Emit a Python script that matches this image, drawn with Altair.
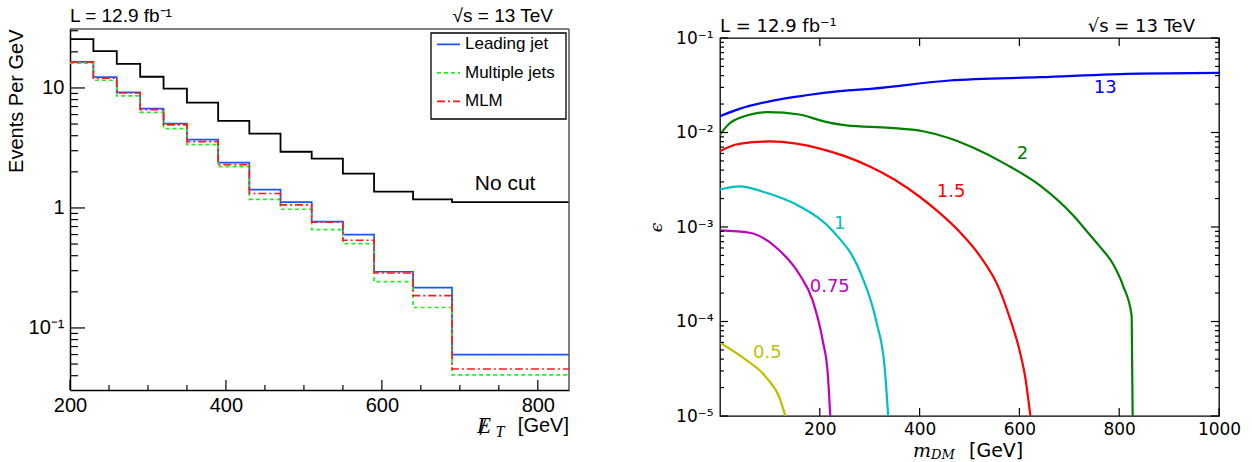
import altair as alt
import pandas as pd

# ---------------- left panel: missing-ET distributions ----------------
bin_edges = [200, 230, 260, 290, 320, 350, 390, 430, 470, 510, 550, 590, 640, 690, 840]
no_cut = [25.5, 20.3, 15.9, 12.4, 9.87, 7.55, 5.31, 4.16, 2.94, 2.58, 1.93, 1.37, 1.18, 1.12]
leading_jet = [16.5, 12.3, 9.2, 6.72, 5.04, 3.71, 2.39, 1.42, 1.12, 0.77, 0.60, 0.294, 0.217, 0.060]
multiple_jets = [16.1, 11.6, 8.58, 6.27, 4.58, 3.37, 2.21, 1.18, 0.975, 0.66, 0.504, 0.243, 0.148, 0.0406]
mlm = [16.5, 12.1, 9.08, 6.6, 4.92, 3.57, 2.30, 1.32, 1.06, 0.76, 0.538, 0.287, 0.186, 0.0455]
series_names = ["Leading jet", "Multiple jets", "MLM"]
series_colors = ["#1a55ff", "#22ee22", "#ff1a1a"]
series_dashes = [[1, 0], [4, 3], [8, 3, 2, 3]]

left_x_major = [200, 400, 600, 800]
left_x_minor = [250, 300, 350, 450, 500, 550, 650, 700, 750]
left_y_major = [0.1, 1, 10]
left_y_minor = [0.04, 0.05, 0.06, 0.07, 0.08, 0.09, 0.2, 0.3, 0.4, 0.5, 0.6, 0.7,
                0.8, 0.9, 2, 3, 4, 5, 6, 7, 8, 9, 20, 30]

# ---------------- right panel: contours in (m_DM, epsilon) ----------------
c13_m = [0, 39, 106, 173, 240, 307, 460, 641, 841, 1000]
c13_eps = [1.486e-2, 1.778e-2, 2.178e-2, 2.477e-2, 2.735e-2, 2.917e-2, 3.548e-2, 3.846e-2, 4.207e-2, 4.266e-2]
c2_m = [0, 20, 40, 96, 159, 206, 253, 340, 407, 460, 507, 574, 641, 708, 735, 760, 788, 808, 825, 827]
c2_eps = [9.53e-3, 1.26e-2, 1.43e-2, 1.64e-2, 1.55e-2, 1.32e-2, 1.19e-2, 1.12e-2, 1.03e-2, 8.71e-3,
          6.92e-3, 4.57e-3, 2.75e-3, 1.32e-3, 9.02e-4, 6.31e-4, 4.03e-4, 2.37e-4, 1.15e-4, 1.0e-5]
c15_m = [0, 30, 60, 100, 150, 200, 250, 300, 350, 400, 440, 480, 520, 560, 580, 600, 612, 622]
c15_eps = [6.34e-3, 7.41e-3, 7.85e-3, 8.04e-3, 7.67e-3, 6.76e-3, 5.62e-3, 4.37e-3, 3.16e-3, 2.09e-3,
           1.41e-3, 8.91e-4, 5.01e-4, 2.19e-4, 1.12e-4, 5.01e-5, 2.51e-5, 1.0e-5]
c1_m = [0, 39, 93, 159, 226, 280, 313, 330, 337]
c1_eps = [2.49e-3, 2.69e-3, 2.30e-3, 1.66e-3, 9.06e-4, 3.42e-4, 1.01e-4, 3.25e-5, 1.0e-5]
c075_m = [0, 59, 113, 159, 186, 206, 216, 221]
c075_eps = [9.2e-4, 8.69e-4, 6.03e-4, 3.16e-4, 1.65e-4, 6.22e-5, 2.77e-5, 1.0e-5]
c05_m = [0, 46, 93, 119, 131]
c05_eps = [5.97e-5, 4.14e-5, 2.55e-5, 1.57e-5, 1.0e-5]

contour_names = ["13", "2", "1.5", "1", "0.75", "0.5"]
contour_colors = ["#0000ff", "#008000", "#ff0000", "#00bfbf", "#bf00bf", "#bfbf00"]
label_m = [772, 606, 463, 240, 220, 95]
label_eps = [2.96e-2, 5.97e-3, 2.37e-3, 1.08e-3, 2.33e-4, 4.59e-5]

right_x_major = [200, 400, 600, 800, 1000]
right_y_major = [1e-5, 1e-4, 1e-3, 1e-2, 1e-1]
right_y_minor = [m * d for d in [1e-5, 1e-4, 1e-3, 1e-2] for m in range(2, 10)]

# ======================= LEFT CHART =======================
W_L, H_L, TOP_L = 499, 352, -9
FL = "Liberation Sans"

rows = []
for name, vals in zip(series_names, [leading_jet, multiple_jets, mlm]):
    for i, e in enumerate(bin_edges):
        rows.append({"series": name, "x": e, "y": vals[min(i, len(vals) - 1)], "i": i})
df_col = pd.DataFrame(rows)
df_black = pd.DataFrame([{"x": e, "y": no_cut[min(i, len(no_cut) - 1)], "i": i}
                         for i, e in enumerate(bin_edges)])

xL = alt.X("x:Q", scale=alt.Scale(domain=[200, 840], nice=False, zero=False),
           axis=alt.Axis(values=left_x_major, ticks=False, grid=False, domain=True,
                         domainColor="black", domainWidth=1.5, labelFont=FL, labelFontSize=20,
                         labelColor="black", labelPadding=5, title=None, labelFlush=False))
yL = alt.Y("y:Q", scale=alt.Scale(type="log", domain=[0.0304, 31], range=[H_L, TOP_L], nice=False),
           axis=alt.Axis(values=left_y_major, ticks=False, grid=False, domain=True,
                         domainColor="black", domainWidth=1.5, labelFont=FL, labelFontSize=20,
                         labelColor="black", labelPadding=6,
                         labelExpr="datum.value < 0.5 ? '10⁻¹' : (datum.value < 5 ? '1' : '10')",
                         title="Events Per GeV", titleAnchor="end", titleFont=FL,
                         titleFontSize=20, titleFontWeight="normal", titleColor="black",
                         titlePadding=2))

colored = alt.Chart(df_col).mark_line(interpolate="step-after", strokeWidth=1.7).encode(
    x=xL, y=yL,
    color=alt.Color("series:N", scale=alt.Scale(domain=series_names, range=series_colors), legend=None),
    strokeDash=alt.StrokeDash("series:N", scale=alt.Scale(domain=series_names, range=series_dashes), legend=None),
    order="i:Q")
black = alt.Chart(df_black).mark_line(interpolate="step-after", strokeWidth=1.8, color="black").encode(
    x=xL, y=yL, order="i:Q")

nocut_txt = alt.Chart(pd.DataFrame({"x": [758], "y": [1.575], "t": ["No cut"]})).mark_text(
    font=FL, fontSize=21, color="black").encode(x=xL, y=yL, text="t:N")

one = pd.DataFrame({"a": [0]})
xmaj = alt.Chart(pd.DataFrame({"x": left_x_major})).mark_rule(color="black", strokeWidth=1.2).encode(
    x=xL, y=alt.value(H_L), y2=alt.value(H_L - 10))
xmin = alt.Chart(pd.DataFrame({"x": left_x_minor})).mark_rule(color="black", strokeWidth=1.2).encode(
    x=xL, y=alt.value(H_L), y2=alt.value(H_L - 5))
ymaj = alt.Chart(pd.DataFrame({"y": left_y_major})).mark_rule(color="black", strokeWidth=1.2).encode(
    y=yL, x=alt.value(0), x2=alt.value(15))
ymin = alt.Chart(pd.DataFrame({"y": left_y_minor})).mark_rule(color="black", strokeWidth=1.2).encode(
    y=yL, x=alt.value(0), x2=alt.value(8))
frame_top = alt.Chart(one).mark_rule(color="#555555", strokeWidth=1.5).encode(
    x=alt.value(0), x2=alt.value(W_L), y=alt.value(TOP_L))
frame_right = alt.Chart(one).mark_rule(color="#555555", strokeWidth=1.5).encode(
    x=alt.value(W_L), y=alt.value(TOP_L), y2=alt.value(H_L))

# legend box (drawn from the series arrays)
LGX, LGY, LGW, LGH, LGROW = 361, -5, 135, 86, 28.5
legend_layers = [alt.Chart(one).mark_rect(fill="white", stroke="black", strokeWidth=1.3).encode(
    x=alt.value(LGX), x2=alt.value(LGX + LGW), y=alt.value(LGY), y2=alt.value(LGY + LGH))]
for k, (nm, col, dash) in enumerate(zip(series_names, series_colors, series_dashes)):
    yy = LGY + 11.3 + k * LGROW
    legend_layers.append(alt.Chart(one).mark_rule(color=col, strokeWidth=1.8, strokeDash=dash).encode(
        x=alt.value(LGX + 6), x2=alt.value(LGX + 29), y=alt.value(yy)))
    legend_layers.append(alt.Chart(one).mark_text(font=FL, fontSize=17, align="left",
                                                  baseline="middle", color="black").encode(
        x=alt.value(LGX + 34), y=alt.value(yy), text=alt.value(nm)))

lumi_L = alt.Chart(one).mark_text(font=FL, fontSize=19, align="left", baseline="middle",
                                   color="black").encode(
    x=alt.value(0), y=alt.value(TOP_L - 13), text=alt.value("L = 12.9 fb⁻¹"))
sqrt_L = alt.Chart(one).mark_text(font=FL, fontSize=19, align="right", baseline="middle",
                                   color="black").encode(
    x=alt.value(483), y=alt.value(TOP_L - 13), text=alt.value("√s = 13 TeV"))
et_E = alt.Chart(one).mark_text(font="Liberation Serif", fontStyle="italic", fontSize=23,
                                 align="center", baseline="middle", color="black").encode(
    x=alt.value(414), y=alt.value(H_L + 36), text=alt.value("E"))
et_slash = alt.Chart(one).mark_text(font="Liberation Serif", fontSize=25,
                                     align="center", baseline="middle", color="black").encode(
    x=alt.value(413), y=alt.value(H_L + 37), text=alt.value("/"))
et_T = alt.Chart(one).mark_text(font="Liberation Serif", fontStyle="italic", fontSize=16,
                                 align="center", baseline="middle", color="black").encode(
    x=alt.value(430), y=alt.value(H_L + 42), text=alt.value("T"))
et_G = alt.Chart(one).mark_text(font=FL, fontSize=20, align="right", baseline="middle",
                                 color="black").encode(
    x=alt.value(W_L), y=alt.value(H_L + 36), text=alt.value("[GeV]"))

left = alt.layer(black, colored, nocut_txt, xmaj, xmin, ymaj, ymin, frame_top, frame_right,
                 *legend_layers, lumi_L, sqrt_L, et_E, et_slash, et_T, et_G).properties(
    width=W_L, height=H_L, view=alt.ViewBackground(stroke=None))

# ======================= RIGHT CHART =======================
W_R, H_R = 499, 378
FR = "DejaVu Sans"

crow = []
for name, ms, es in zip(contour_names, [c13_m, c2_m, c15_m, c1_m, c075_m, c05_m],
                        [c13_eps, c2_eps, c15_eps, c1_eps, c075_eps, c05_eps]):
    for i, (m, e) in enumerate(zip(ms, es)):
        crow.append({"contour": name, "m": m, "eps": e, "i": i})
df_c = pd.DataFrame(crow)
df_lab = pd.DataFrame({"contour": contour_names, "m": label_m, "eps": label_eps})

xR = alt.X("m:Q", scale=alt.Scale(domain=[0, 1000], nice=False, zero=False),
           axis=alt.Axis(values=right_x_major, format="d", ticks=False, grid=False, domain=False,
                         labelFont=FR, labelFontSize=17, labelColor="black", labelPadding=5,
                         title=None, labelFlush=False))
yR = alt.Y("eps:Q", scale=alt.Scale(type="log", domain=[1e-5, 1e-1], nice=False),
           axis=alt.Axis(values=right_y_major, ticks=False, grid=False, domain=False,
                         labelFont=FR, labelFontSize=17, labelColor="black", labelPadding=7,
                         labelExpr="datum.value > 0.05 ? '10⁻¹' : (datum.value > 0.005 ? '10⁻²' : (datum.value > 0.0005 ? '10⁻³' : (datum.value > 0.00005 ? '10⁻⁴' : '10⁻⁵')))",
                         title="ϵ", titleFont="DejaVu Serif", titleFontStyle="italic",
                         titleFontSize=17, titleFontWeight="normal", titleColor="black",
                         titlePadding=10))
cscale = alt.Scale(domain=contour_names, range=contour_colors)

curves = alt.Chart(df_c).mark_line(interpolate="monotone", strokeWidth=2.2, clip=True).encode(
    x=xR, y=yR, color=alt.Color("contour:N", scale=cscale, legend=None), detail="contour:N",
    order="i:Q")
clabels = alt.Chart(df_lab).mark_text(font=FR, fontSize=18, baseline="middle").encode(
    x=xR, y=yR, text="contour:N", color=alt.Color("contour:N", scale=cscale, legend=None))

ry_maj = pd.DataFrame({"eps": right_y_major})
ry_min = pd.DataFrame({"eps": right_y_minor})
rx_maj = pd.DataFrame({"m": right_x_major})
tick = dict(color="black", strokeWidth=1.2)
rt = [
    alt.Chart(ry_maj).mark_rule(**tick).encode(y=yR, x=alt.value(0), x2=alt.value(8)),
    alt.Chart(ry_min).mark_rule(**tick).encode(y=yR, x=alt.value(0), x2=alt.value(4)),
    alt.Chart(ry_maj).mark_rule(**tick).encode(y=yR, x=alt.value(W_R - 8), x2=alt.value(W_R)),
    alt.Chart(ry_min).mark_rule(**tick).encode(y=yR, x=alt.value(W_R - 4), x2=alt.value(W_R)),
    alt.Chart(rx_maj).mark_rule(**tick).encode(x=xR, y=alt.value(H_R), y2=alt.value(H_R - 8)),
    alt.Chart(rx_maj).mark_rule(**tick).encode(x=xR, y=alt.value(0), y2=alt.value(8)),
]

lumi_R = alt.Chart(one).mark_text(font=FR, fontSize=18, align="left", baseline="middle",
                                   color="black").encode(
    x=alt.value(0), y=alt.value(-11), text=alt.value("L = 12.9 fb⁻¹"))
sqrt_R = alt.Chart(one).mark_text(font=FR, fontSize=18, align="right", baseline="middle",
                                   color="black").encode(
    x=alt.value(475), y=alt.value(-11), text=alt.value("√s = 13 TeV"))
mdm_m = alt.Chart(one).mark_text(font="DejaVu Serif", fontStyle="italic", fontSize=19,
                                  align="center", baseline="middle", color="black").encode(
    x=alt.value(202), y=alt.value(H_R + 35), text=alt.value("m"))
mdm_s = alt.Chart(one).mark_text(font="DejaVu Serif", fontStyle="italic", fontSize=13,
                                  align="left", baseline="middle", color="black").encode(
    x=alt.value(211), y=alt.value(H_R + 39), text=alt.value("DM"))
mdm_g = alt.Chart(one).mark_text(font=FR, fontSize=19, align="left", baseline="middle",
                                  color="black").encode(
    x=alt.value(249), y=alt.value(H_R + 35), text=alt.value("[GeV]"))

right = alt.layer(curves, clabels, *rt, lumi_R, sqrt_R, mdm_m, mdm_s, mdm_g).properties(
    width=W_R, height=H_R, view=alt.ViewBackground(stroke="black", strokeWidth=1.3))

chart = alt.hconcat(left, right, spacing=73).resolve_scale(color="independent").properties(
    padding={"left": 6, "top": 7, "right": 3, "bottom": 0}
).configure(background="white")

chart.save("out.html", embed_options={"renderer": "svg", "actions": False})
